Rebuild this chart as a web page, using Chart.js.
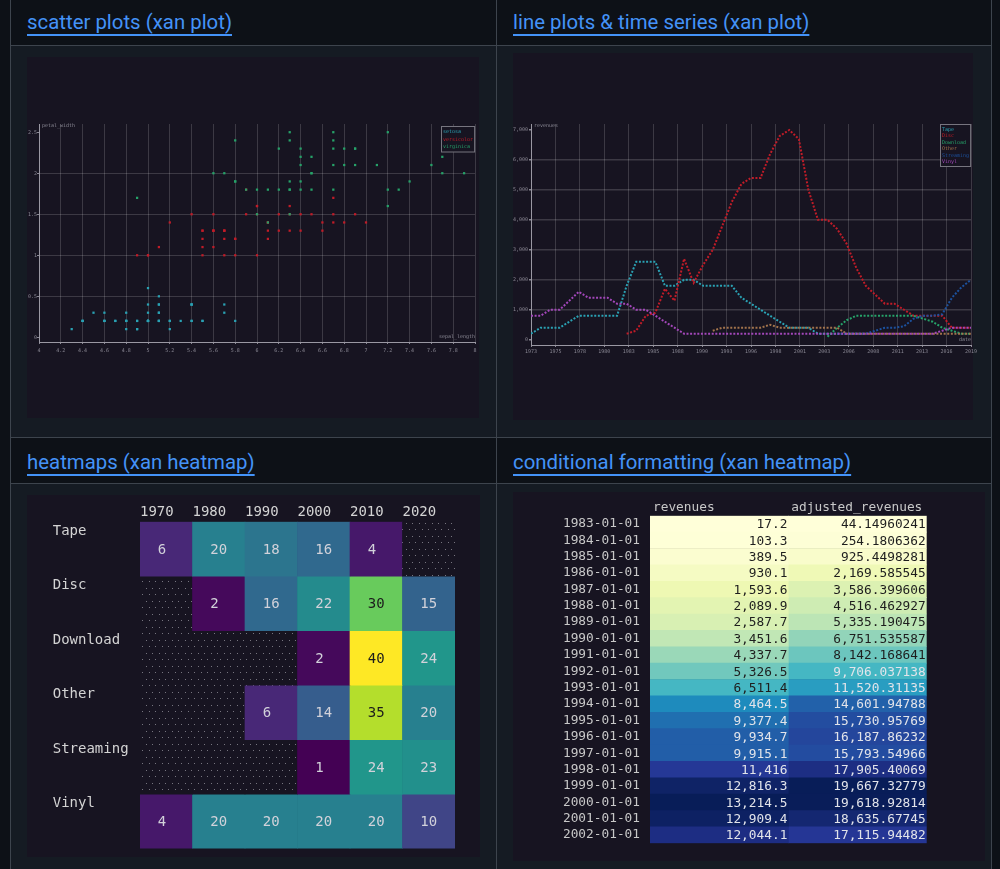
<!DOCTYPE html>
<html>
<head>
<meta charset="utf-8">
<title>xan plots</title>
<script src="https://cdn.jsdelivr.net/npm/chart.js@4.4.1/dist/chart.umd.min.js"></script>
<style>
  html, body { margin: 0; padding: 0; }
  body { width: 1000px; height: 869px; overflow: hidden; position: relative; background: #0d1117; font-family: Roboto, "Noto Sans", sans-serif; }
  .row-bg { position: absolute; left: 10px; width: 981px; background: #151b23; }
  .vline { position: absolute; top: 0; width: 1px; height: 869px; background: #3d444d; }
  .hline { position: absolute; left: 10px; width: 982px; height: 1px; background: #3d444d; }
  .title { position: absolute; color: #4493f8; font-size: 20.4px; line-height: 24px; text-decoration: underline; text-underline-offset: 5px; white-space: nowrap; }
  .img-bg { position: absolute; background: #171421; }
  canvas { position: absolute; }
</style>
</head>
<body>
<div class="row-bg" style="top:46px;height:391px"></div>
<div class="row-bg" style="top:484px;height:385px"></div>
<div class="hline" style="top:45px"></div>
<div class="hline" style="top:437px"></div>
<div class="hline" style="top:483px"></div>
<div class="vline" style="left:10px"></div>
<div class="vline" style="left:496px"></div>
<div class="vline" style="left:991px"></div>

<a class="title" style="left:27px;top:10px">scatter plots (xan plot)</a>
<a class="title" style="left:513px;top:10px">line plots &amp; time series (xan plot)</a>
<a class="title" style="left:27px;top:450px">heatmaps (xan heatmap)</a>
<a class="title" style="left:513px;top:450px">conditional formatting (xan heatmap)</a>

<div class="img-bg" style="left:27px;top:57px;width:452px;height:361px"></div>
<div class="img-bg" style="left:513px;top:53px;width:460px;height:367px"></div>
<div class="img-bg" style="left:27px;top:495px;width:453px;height:362px"></div>
<div class="img-bg" style="left:513px;top:492px;width:472px;height:369px"></div>

<canvas id="scatterChart" width="452" height="361" style="left:27px;top:57px"></canvas>
<canvas id="lineChart" width="472" height="367" style="left:513px;top:53px"></canvas>
<canvas id="heatChart" width="453" height="362" style="left:27px;top:495px"></canvas>
<canvas id="tableChart" width="472" height="369" style="left:513px;top:492px"></canvas>

<script>
// ---- Scatter data (iris: sepal_length vs petal_width) ----
const irisSpecies = ['setosa', 'versicolor', 'virginica'];
const setosaSepalLength = [5.1,4.9,4.7,4.6,5.0,5.4,4.6,5.0,4.4,4.9,5.4,4.8,4.8,4.3,5.8,5.7,5.4,5.1,5.7,5.1,5.4,5.1,4.6,5.1,4.8,5.0,5.0,5.2,5.2,4.7,4.8,5.4,5.2,5.5,4.9,5.0,5.5,4.9,4.4,5.1,5.0,4.5,4.4,5.0,5.1,4.8,5.1,4.6,5.3,5.0];
const setosaPetalWidth = [0.2,0.2,0.2,0.2,0.2,0.4,0.3,0.2,0.2,0.1,0.2,0.2,0.1,0.1,0.2,0.4,0.4,0.3,0.3,0.3,0.2,0.4,0.2,0.5,0.2,0.2,0.4,0.2,0.2,0.2,0.2,0.4,0.1,0.2,0.2,0.2,0.2,0.1,0.2,0.2,0.3,0.3,0.2,0.6,0.4,0.3,0.2,0.2,0.2,0.2];
const versicolorSepalLength = [7.0,6.4,6.9,5.5,6.5,5.7,6.3,4.9,6.6,5.2,5.0,5.9,6.0,6.1,5.6,6.7,5.6,5.8,6.2,5.6,5.9,6.1,6.3,6.1,6.4,6.6,6.8,6.7,6.0,5.7,5.5,5.5,5.8,6.0,5.4,6.0,6.7,6.3,5.6,5.5,5.5,6.1,5.8,5.0,5.6,5.7,5.7,6.2,5.1,5.7];
const versicolorPetalWidth = [1.4,1.5,1.5,1.3,1.5,1.3,1.6,1.0,1.3,1.4,1.0,1.5,1.0,1.4,1.3,1.4,1.5,1.0,1.5,1.1,1.8,1.3,1.5,1.2,1.3,1.4,1.4,1.7,1.5,1.0,1.1,1.0,1.2,1.6,1.5,1.6,1.5,1.3,1.3,1.3,1.2,1.4,1.2,1.0,1.3,1.2,1.3,1.3,1.1,1.3];
const virginicaSepalLength = [6.3,5.8,7.1,6.3,6.5,7.6,4.9,7.3,6.7,7.2,6.5,6.4,6.8,5.7,5.8,6.4,6.5,7.7,7.7,6.0,6.9,5.6,7.7,6.3,6.7,7.2,6.2,6.1,6.4,7.2,7.4,7.9,6.4,6.3,6.1,7.7,6.3,6.4,6.0,6.9,6.7,6.9,5.8,6.8,6.7,6.7,6.3,6.5,6.2,5.9];
const virginicaPetalWidth = [2.5,1.9,2.1,1.8,2.2,2.1,1.7,1.8,1.8,2.5,2.0,1.9,2.1,2.0,2.4,2.3,1.8,2.2,2.3,1.5,2.3,2.0,2.0,1.8,2.1,1.8,1.8,1.8,2.1,1.6,1.9,2.0,2.2,1.5,1.4,2.3,2.4,1.8,1.8,2.1,2.4,2.3,1.9,2.3,2.5,2.3,1.9,2.0,2.3,1.8];
const scatterXTicks = [4, 4.2, 4.4, 4.6, 4.8, 5, 5.2, 5.4, 5.6, 5.8, 6, 6.2, 6.4, 6.6, 6.8, 7, 7.2, 7.4, 7.6, 7.8, 8];
const scatterYTicks = [0, 0.5, 1, 1.5, 2, 2.5];

// ---- Line data (revenues by format, yearly) ----
const lineYears = [1973,1974,1975,1976,1977,1978,1979,1980,1981,1982,1983,1984,1985,1986,1987,1988,1989,1990,1991,1992,1993,1994,1995,1996,1997,1998,1999,2000,2001,2002,2003,2004,2005,2006,2007,2008,2009,2010,2011,2012,2013,2014,2015,2016,2017,2018,2019];
const formats = ['Tape', 'Disc', 'Download', 'Other', 'Streaming', 'Vinyl'];
const tapeRevenues = [200,400,400,400,600,800,800,800,800,800,1800,2600,2600,2600,1800,1800,2000,2000,1800,1800,1800,1800,1400,1200,1000,800,600,400,400,400,200,200,200,200,200,200,null,null,null,null,null,null,null,null,null,null,null];
const discRevenues = [null,null,null,null,null,null,null,null,null,null,200,300,800,900,1700,1300,2700,1900,2500,3000,3800,4600,5200,5400,5400,6200,6800,7000,6700,5000,4000,4000,3700,3200,2400,1800,1500,1200,1200,1000,800,800,800,800,400,400,400];
const downloadRevenues = [null,null,null,null,null,null,null,null,null,null,null,null,null,null,null,null,null,null,null,null,null,null,null,null,null,null,null,null,null,null,null,100,400,650,800,800,800,800,800,800,800,700,600,400,300,200,200];
const otherRevenues = [null,null,null,null,null,null,null,null,null,null,null,null,null,null,null,null,null,null,null,300,400,400,400,400,400,500,400,400,400,400,400,400,400,200,200,200,200,200,200,200,200,200,200,200,200,200,200];
const streamingRevenues = [null,null,null,null,null,null,null,null,null,null,null,null,null,null,null,null,null,null,null,null,null,null,null,null,null,null,null,null,null,null,null,null,200,200,200,200,300,400,400,450,700,800,800,850,1400,1750,2000];
const vinylRevenues = [800,800,1000,1000,1300,1600,1400,1400,1400,1200,1200,1000,1000,800,600,400,200,200,200,200,200,200,200,200,200,200,200,200,200,200,200,200,200,200,200,200,200,200,200,200,200,200,200,300,400,400,400];
const lineXTickLabels = ['1973','1975','1978','1980','1983','1985','1988','1990','1993','1996','1998','2001','2003','2006','2008','2011','2013','2016','2019'];
const lineYTicks = [0, 1000, 2000, 3000, 4000, 5000, 6000, 7000];

// ---- Heatmap data (counts by format and decade) ----
const decades = ['1970', '1980', '1990', '2000', '2010', '2020'];
const tapeCounts = [6, 20, 18, 16, 4, null];
const discCounts = [null, 2, 16, 22, 30, 15];
const downloadCounts = [null, null, null, 2, 40, 24];
const otherCounts = [null, null, 6, 14, 35, 20];
const streamingCounts = [null, null, null, 1, 24, 23];
const vinylCounts = [4, 20, 20, 20, 20, 10];

// ---- Conditional formatting table data ----
const tableDates = ['1983-01-01','1984-01-01','1985-01-01','1986-01-01','1987-01-01','1988-01-01','1989-01-01','1990-01-01','1991-01-01','1992-01-01','1993-01-01','1994-01-01','1995-01-01','1996-01-01','1997-01-01','1998-01-01','1999-01-01','2000-01-01','2001-01-01','2002-01-01'];
const tableColumns = ['revenues', 'adjusted_revenues'];
const revenues = [17.2,103.3,389.5,930.1,1593.6,2089.9,2587.7,3451.6,4337.7,5326.5,6511.4,8464.5,9377.4,9934.7,9915.1,11416,12816.3,13214.5,12909.4,12044.1];
const adjustedRevenues = [44.14960241,254.1806362,925.4498281,2169.585545,3586.399606,4516.462927,5335.190475,6751.535587,8142.168641,9706.037138,11520.31135,14601.94788,15730.95769,16187.86232,15793.54966,17905.40069,19667.32779,19618.92814,18635.67745,17115.94482];

// ---- Styling helpers ----
const term = { cyan: '#2aa1b3', red: '#c01c28', green: '#26a269', yellow: '#a2734c', blue: '#1c519e', magenta: '#a347ba' };
const tickColor = '#8a8894';
const gridColor = 'rgba(255,255,255,0.16)';
const imageBg = '#171421';
const mono = "'DejaVu Sans Mono', monospace";

Chart.defaults.font.family = mono;
Chart.defaults.animation = false;
Chart.defaults.responsive = false;
Chart.defaults.plugins.legend.display = false;
Chart.defaults.plugins.tooltip.enabled = false;

function hexToRgb(h) {
    return [parseInt(h.slice(1, 3), 16), parseInt(h.slice(3, 5), 16), parseInt(h.slice(5, 7), 16)];
}
function ramp(stops, t) {
    t = Math.min(1, Math.max(0, t));
    const p = t * (stops.length - 1);
    const i = Math.min(stops.length - 2, Math.floor(p));
    const f = p - i;
    const a = hexToRgb(stops[i]), b = hexToRgb(stops[i + 1]);
    return 'rgb(' + a.map((v, k) => Math.round(v + (b[k] - v) * f)).join(',') + ')';
}
const viridis = ['#440154','#482777','#3f4a8a','#31678e','#26838f','#1f9d8a','#6cce5a','#b6de2b','#fee825'];
const ylgnbu = ['#ffffd9','#edf8b1','#c7e9b4','#7fcdbb','#41b6c4','#1d91c0','#225ea8','#253494','#081d58'];

function toPoints(xs, ys) { return xs.map((x, i) => ({ x: x, y: ys[i] })); }

// axis names drawn inside the plot corners, like the terminal renderer
const axisNames = {
    id: 'axisNames',
    afterDraw(chart, args, opts) {
        const { ctx, chartArea } = chart;
        ctx.save();
        ctx.font = opts.size + 'px ' + mono;
        ctx.fillStyle = opts.color;
        ctx.textBaseline = 'middle';
        ctx.textAlign = 'left';
        ctx.fillText(opts.y, chartArea.left + 3, chartArea.top + 2);
        ctx.textAlign = 'right';
        ctx.fillText(opts.x, chartArea.right, chartArea.bottom - 5);
        ctx.restore();
    }
};

// small boxed legend in the top right corner
const boxLegend = {
    id: 'boxLegend',
    afterDraw(chart, args, opts) {
        const { ctx, chartArea } = chart;
        const sets = chart.data.datasets;
        ctx.save();
        ctx.font = opts.size + 'px ' + mono;
        const w = Math.max(...sets.map(d => ctx.measureText(d.label).width)) + 2 * opts.pad;
        const h = sets.length * opts.lineHeight + 2 * opts.pad;
        const x = Math.round(chartArea.right - w) - 0.5;
        const y = Math.round(chartArea.top + opts.top) + 0.5;
        ctx.fillStyle = imageBg;
        ctx.fillRect(x, y, w, h);
        ctx.strokeStyle = '#77757f';
        ctx.lineWidth = 1;
        ctx.strokeRect(x, y, w, h);
        ctx.textBaseline = 'middle';
        sets.forEach((d, i) => {
            ctx.fillStyle = d.borderColor;
            ctx.fillText(d.label, x + opts.pad, y + opts.pad + (i + 0.5) * opts.lineHeight);
        });
        ctx.restore();
    }
};

// ---- Scatter plot ----
const scatterSets = [
    [setosaSepalLength, setosaPetalWidth, term.cyan],
    [versicolorSepalLength, versicolorPetalWidth, term.red],
    [virginicaSepalLength, virginicaPetalWidth, term.green]
];
new Chart(document.getElementById('scatterChart'), {
    type: 'scatter',
    data: {
        datasets: scatterSets.map((s, i) => ({
            label: irisSpecies[i],
            data: toPoints(s[0], s[1]),
            backgroundColor: s[2],
            borderColor: s[2],
            borderWidth: 0,
            pointStyle: 'rect',
            pointRadius: 1.6,
            order: scatterSets.length - i
        }))
    },
    options: {
        layout: { padding: { left: 0, right: 3, top: 67, bottom: 64 } },
        scales: {
            x: {
                type: 'linear', min: 4, max: 8,
                afterBuildTicks: s => { s.ticks = scatterXTicks.map(v => ({ value: v })); },
                afterFit: s => { s.height = 12; s.paddingLeft = 0; s.paddingRight = 0; },
                ticks: { color: tickColor, font: { size: 5 }, padding: 4, autoSkip: false, maxRotation: 0, callback: v => String(v) },
                grid: { color: gridColor, tickLength: 2, tickColor: tickColor },
                border: { color: '#9a98a3' }
            },
            y: {
                type: 'linear', min: -0.057, max: 2.6,
                afterBuildTicks: s => { s.ticks = scatterYTicks.map(v => ({ value: v })); },
                afterFit: s => { s.width = 12; },
                ticks: { color: tickColor, font: { size: 5 }, padding: 0, callback: v => String(v) },
                grid: {
                    color: c => (c.tick && (c.tick.value === 0 || c.tick.value === 2.5)) ? 'rgba(0,0,0,0)' : gridColor,
                    tickLength: 2, tickColor: tickColor
                },
                border: { color: '#9a98a3' }
            }
        },
        plugins: {
            axisNames: { x: 'sepal_length', y: 'petal_width', size: 5, color: tickColor },
            boxLegend: { size: 5, lineHeight: 7.5, pad: 1.5, top: 2 }
        }
    },
    plugins: [axisNames, boxLegend]
});

// ---- Line plot ----
const lineSeries = [tapeRevenues, discRevenues, downloadRevenues, otherRevenues, streamingRevenues, vinylRevenues];
const lineColors = [term.cyan, term.red, term.green, term.yellow, term.blue, term.magenta];
new Chart(document.getElementById('lineChart'), {
    type: 'line',
    data: {
        datasets: lineSeries.map((s, i) => ({
            label: formats[i],
            data: toPoints(lineYears, s),
            borderColor: lineColors[i],
            backgroundColor: lineColors[i],
            borderWidth: 2,
            borderDash: [2, 1.6],
            pointRadius: 0,
            spanGaps: false,
            order: lineSeries.length - i
        }))
    },
    options: {
        layout: { padding: { left: 0, right: 14, top: 71, bottom: 63 } },
        scales: {
            x: {
                type: 'linear', min: 1973, max: 2019,
                afterBuildTicks: s => { s.ticks = lineXTickLabels.map((_, i) => ({ value: 1973 + i * 46 / (lineXTickLabels.length - 1) })); },
                afterFit: s => { s.height = 12; s.paddingLeft = 0; s.paddingRight = 0; },
                ticks: { color: tickColor, font: { size: 5 }, padding: 2, autoSkip: false, maxRotation: 0, callback: (v, i) => lineXTickLabels[i] },
                grid: { color: gridColor, tickLength: 2, tickColor: tickColor },
                border: { color: '#9a98a3' }
            },
            y: {
                type: 'linear', min: -177, max: 7200,
                afterBuildTicks: s => { s.ticks = lineYTicks.map(v => ({ value: v })); },
                afterFit: s => { s.width = 18; },
                ticks: { color: tickColor, font: { size: 5 }, padding: 1, callback: v => v.toLocaleString('en-US') },
                grid: {
                    color: c => (c.tick && (c.tick.value === 0 || c.tick.value === 7000)) ? 'rgba(0,0,0,0)' : gridColor,
                    lineWidth: 1.5, tickLength: 2, tickColor: tickColor
                },
                border: { color: '#9a98a3' }
            }
        },
        plugins: {
            axisNames: { x: 'date', y: 'revenues', size: 5, color: tickColor },
            boxLegend: { size: 5, lineHeight: 6.5, pad: 1.5, top: 0 }
        }
    },
    plugins: [axisNames, boxLegend]
});

// ---- Heatmap ----
const heatRows = formats;
const heatValues = [tapeCounts, discCounts, downloadCounts, otherCounts, streamingCounts, vinylCounts];
const heatVals = heatValues.flat().filter(v => v !== null);
const heatMin = Math.min(...heatVals), heatMax = Math.max(...heatVals);
const heatT = v => (v - heatMin) / (heatMax - heatMin);

const heatCanvas = document.getElementById('heatChart');
// dotted fill for empty cells
function dotPattern(ctx) {
    const c = document.createElement('canvas');
    c.width = 13; c.height = 13;
    const g = c.getContext('2d');
    g.fillStyle = imageBg;
    g.fillRect(0, 0, 13, 13);
    g.fillStyle = '#77757f';
    [[2, 2], [8, 2], [5, 8], [11, 8]].forEach(p => g.fillRect(p[0], p[1], 1, 1));
    return ctx.createPattern(c, 'repeat');
}
const emptyCell = dotPattern(heatCanvas.getContext('2d'));

const heatLabels = {
    id: 'heatLabels',
    afterDatasetsDraw(chart) {
        const ctx = chart.ctx;
        ctx.save();
        ctx.font = '14px ' + mono;
        ctx.textAlign = 'center';
        ctx.textBaseline = 'middle';
        heatValues.forEach((row, r) => {
            chart.getDatasetMeta(r).data.forEach((bar, c) => {
                const v = row[c];
                if (v === null) return;
                ctx.fillStyle = heatT(v) > 0.65 ? '#1c1c1c' : '#d2d2da';
                ctx.fillText(String(v).padEnd(2, ' '), bar.x, (bar.y + bar.base) / 2 + 1);
            });
        });
        ctx.restore();
    }
};

new Chart(heatCanvas, {
    type: 'bar',
    data: {
        labels: decades,
        datasets: heatValues.map((row, r) => ({
            label: heatRows[r],
            data: decades.map(() => [r, r + 1]),
            backgroundColor: row.map(v => v === null ? emptyCell : ramp(viridis, heatT(v))),
            borderWidth: 0,
            grouped: false,
            barPercentage: 1,
            categoryPercentage: 1
        }))
    },
    options: {
        layout: { padding: { left: 25.7, right: 25, top: 0, bottom: 7.7 } },
        scales: {
            x: {
                type: 'category', position: 'top',
                afterFit: s => { s.height = 26.7; s.paddingLeft = 0; s.paddingRight = 0; },
                ticks: { color: '#d4d4d4', font: { size: 14 }, align: 'start', labelOffset: -26.25, padding: 1, autoSkip: false, maxRotation: 0 },
                grid: { display: false, drawTicks: false },
                border: { display: false }
            },
            y: {
                type: 'linear', min: 0, max: 6, reverse: true,
                afterBuildTicks: s => { s.ticks = heatRows.map((_, r) => ({ value: r + 0.5 })); },
                afterFit: s => { s.width = 87.3; },
                ticks: { color: '#d4d4d4', font: { size: 14 }, crossAlign: 'far', labelOffset: -18, padding: 0, callback: (v, i) => heatRows[i] },
                grid: { display: false, drawTicks: false },
                border: { display: false }
            }
        }
    },
    plugins: [heatLabels]
});

// ---- Conditional formatting table ----
const tableValues = [revenues, adjustedRevenues];
const numberFormat = new Intl.NumberFormat('en-US', { maximumSignificantDigits: 10 });
const colT = (vals, v) => (v - Math.min(...vals)) / (Math.max(...vals) - Math.min(...vals));

const tableText = {
    id: 'tableText',
    afterDatasetsDraw(chart) {
        const ctx = chart.ctx;
        ctx.save();
        ctx.font = '12.8px ' + mono;
        ctx.textAlign = 'right';
        ctx.textBaseline = 'middle';
        tableValues.forEach((vals, d) => {
            chart.getDatasetMeta(d).data.forEach((bar, i) => {
                ctx.fillStyle = colT(vals, vals[i]) > 0.4922 ? '#e2e4ea' : '#1e1e1e';
                ctx.fillText(numberFormat.format(vals[i]), Math.max(bar.x, bar.base) - 1, bar.y + 1);
            });
        });
        ctx.restore();
    }
};

new Chart(document.getElementById('tableChart'), {
    type: 'bar',
    data: {
        labels: tableDates,
        datasets: tableValues.map((vals, d) => ({
            label: tableColumns[d],
            data: vals.map(() => [d, d + 1]),
            backgroundColor: vals.map(v => ramp(ylgnbu, colT(vals, v))),
            borderWidth: 0,
            grouped: false,
            barPercentage: 1,
            categoryPercentage: 1
        }))
    },
    options: {
        indexAxis: 'y',
        layout: { padding: { left: 0, right: 58.3, top: 0, bottom: 7.7 } },
        scales: {
            x: {
                type: 'linear', position: 'top', min: 0, max: 2,
                afterBuildTicks: s => { s.ticks = tableColumns.map((_, i) => ({ value: i })); },
                afterFit: s => { s.height = 23.7; s.paddingLeft = 0; s.paddingRight = 0; },
                ticks: { color: '#c8c8c8', font: { size: 12.8 }, align: 'start', labelOffset: 3, padding: 0, autoSkip: false, maxRotation: 0, callback: (v, i) => tableColumns[i] },
                grid: { display: false, drawTicks: false },
                border: { display: false }
            },
            y: {
                type: 'category',
                afterFit: s => { s.width = 137; },
                ticks: { color: '#c8c8c8', font: { size: 12.8 }, padding: 10, autoSkip: false },
                grid: { display: false, drawTicks: false },
                border: { display: false }
            }
        }
    },
    plugins: [tableText]
});
</script>
</body>
</html>
